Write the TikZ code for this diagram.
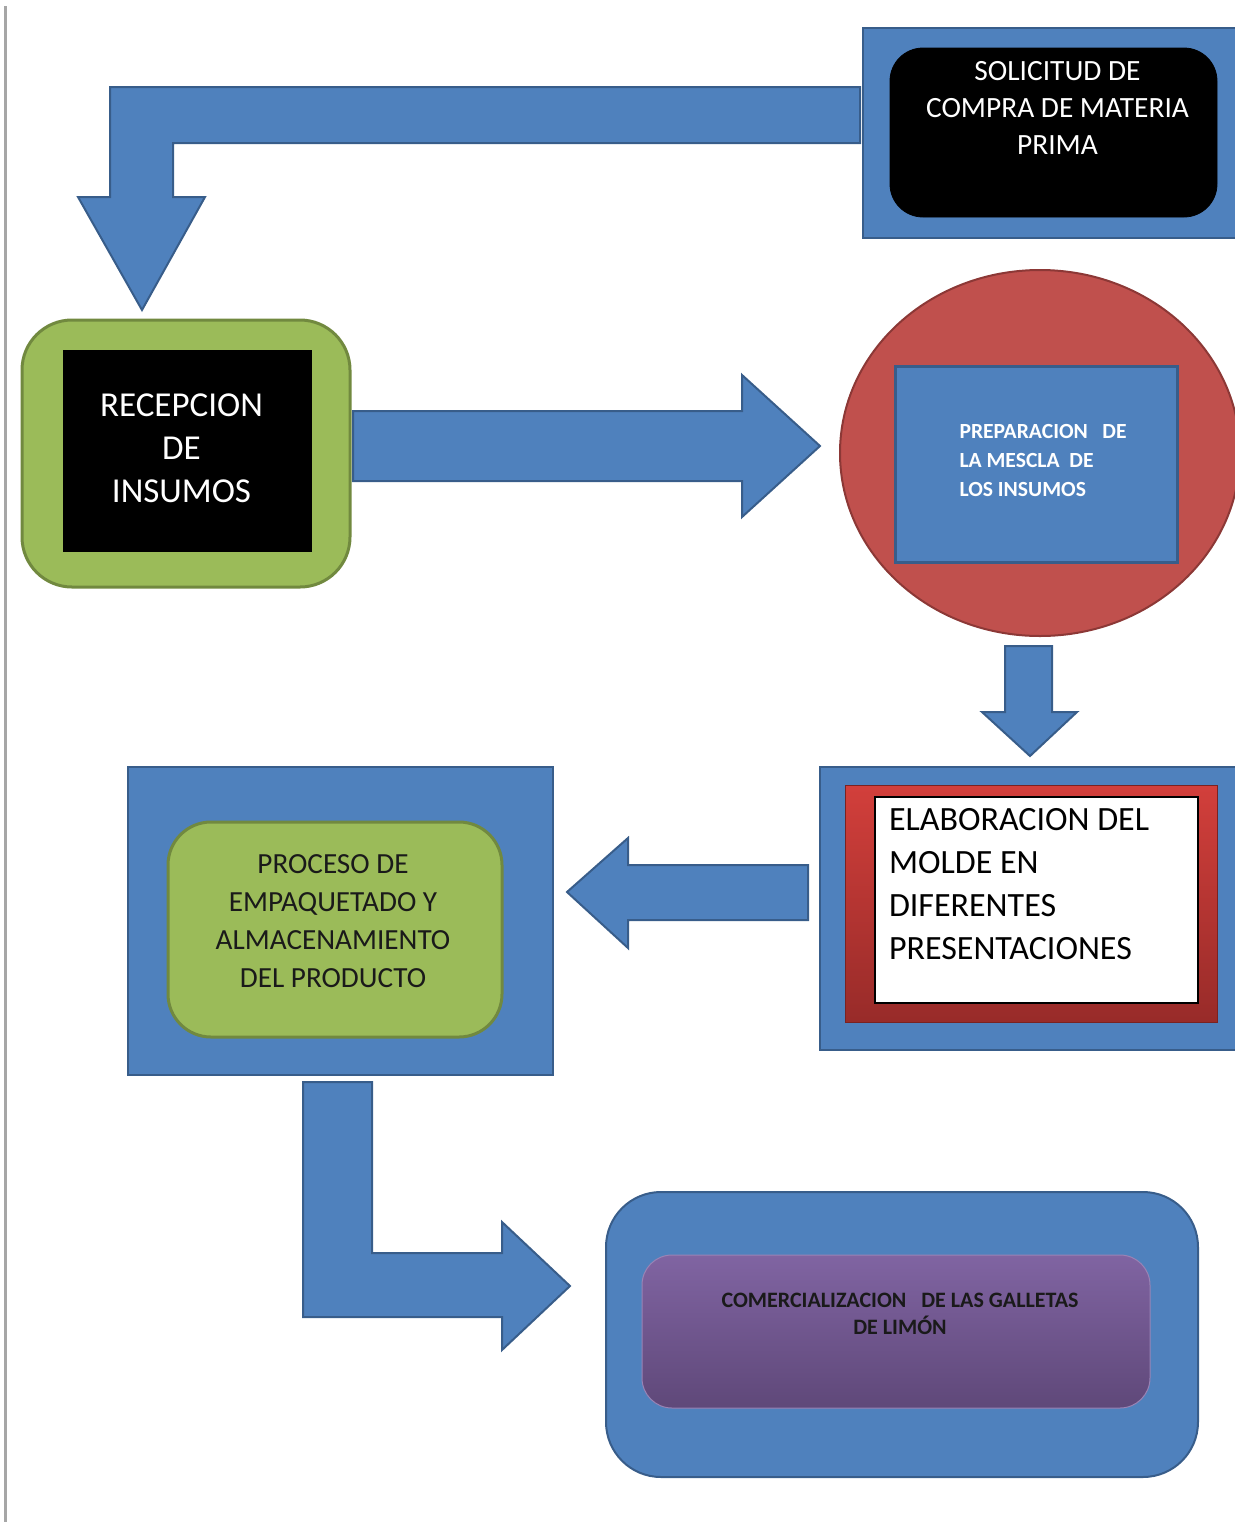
\documentclass[tikz,border=0pt]{standalone}
\usepackage{fontspec}
\setmainfont{Carlito}
\usetikzlibrary{positioning,shapes.geometric}

\definecolor{ofblue}{HTML}{4F81BD}
\definecolor{ofblueline}{HTML}{385D8A}
\definecolor{ofgreen}{HTML}{9BBB59}
\definecolor{ofgreenline}{HTML}{71893F}
\definecolor{ofred}{HTML}{C0504D}
\definecolor{ofredline}{HTML}{8C3836}
\definecolor{redtop}{HTML}{D23F3B}
\definecolor{redbot}{HTML}{982B29}
\definecolor{purtop}{HTML}{8064A2}
\definecolor{purbot}{HTML}{5F4879}
\definecolor{pageline}{HTML}{A6A6A6}
\definecolor{darktext}{HTML}{1A1A1A}

\tikzset{
  blueback/.style={draw=ofblueline, fill=ofblue, line width=1pt, inner sep=0pt},
  blockarrow/.style={draw=ofblueline, fill=ofblue, line width=1pt, line join=miter},
  txt/.style={inner sep=0pt, outer sep=0pt},
}

\begin{document}
\begin{tikzpicture}[x=0.5pt, y=-0.5pt]
  \useasboundingbox (0,0) rectangle (1235,1522);
  % page margin line
  \draw[pageline, line width=1.5pt] (5,6) -- (5,1522);

  % solicitud
  \node[blueback, minimum width=188.5pt, minimum height=105pt] (solicbg) at (1051.5,133) {};
  \node[fill=black, draw=black, rounded corners=16.5pt, minimum width=163.5pt,
        minimum height=84.5pt] (solic) at (1053.5,132.5) {};
  \node[txt, white, align=center, font=\fontsize{14.7}{18.5}\selectfont,
        below=7pt of solic.north, xshift=2pt] (solictxt)
        {SOLICITUD DE\\COMPRA DE MATERIA\\PRIMA};

  % recepcion
  \node[fill=ofgreen, draw=ofgreenline, line width=1.5pt, rounded corners=25pt,
        minimum width=164pt, minimum height=133.5pt] (recepbg) at (186,453.5) {};
  \node[fill=black, inner sep=0pt, minimum width=124.5pt, minimum height=101pt]
        (recep) at (187.5,451) {};
  \node[txt, white, align=center, font=\fontsize{17.5}{21.5}\selectfont,
        below=22pt of recep.north, xshift=-3pt] (receptxt)
        {RECEPCION\\DE\\INSUMOS};

  % preparacion
  \node[ellipse, fill=ofred, draw=ofredline, line width=1pt,
        minimum width=200pt, minimum height=183pt] (prepbg) at (1040,453) {};
  \node[blueback, line width=1.5pt, minimum width=141pt, minimum height=98pt]
        (prep) at (1036,464) {};
  \node[txt, white, align=left, font=\fontsize{10.8}{14.5}\selectfont\bfseries,
        below right=30pt and 33pt of prep.north west] (preptxt)
        {PREPARACION~~~DE\\LA MESCLA~~DE\\LOS INSUMOS};

  % elaboracion
  \node[blueback, minimum width=210pt, minimum height=141.5pt] (elabbg) at (1030,908.5) {};
  \node[top color=redtop, bottom color=redbot, draw=redbot!80!black, line width=0.5pt,
        minimum width=186pt, minimum height=118.5pt] (elabred) at (1031,903.5) {};
  \node[fill=white, draw=black, line width=1pt, minimum width=161.5pt,
        minimum height=103pt] (elab) at (1036.5,900) {};
  \node[txt, black, align=left, font=\fontsize{17}{21.5}\selectfont,
        below right=6pt and 7.5pt of elab.north west] (elabtxt)
        {ELABORACION DEL\\MOLDE EN\\DIFERENTES\\PRESENTACIONES};

  % proceso
  \node[blueback, minimum width=212.5pt, minimum height=154pt] (procbg) at (340.5,921) {};
  \node[fill=ofgreen, draw=ofgreenline, line width=1.5pt, rounded corners=21.5pt,
        minimum width=167pt, minimum height=107.5pt] (proc) at (335,929.5) {};
  \node[txt, darktext, align=center, font=\fontsize{14.6}{19}\selectfont,
        below=17pt of proc.north, xshift=-1pt] (proctxt)
        {PROCESO DE\\EMPAQUETADO Y\\ALMACENAMIENTO\\DEL PRODUCTO};

  % comercializacion
  \node[blueback, rounded corners=27.5pt, minimum width=296pt, minimum height=142.5pt]
        (combg) at (902,1334.5) {};
  \node[top color=purtop, bottom color=purbot, draw=purtop!80!white, line width=0.5pt,
        rounded corners=15pt, minimum width=254pt, minimum height=76.5pt]
        (com) at (896,1331.5) {};
  \node[txt, darktext, align=center, font=\fontsize{11}{13.5}\selectfont\bfseries,
        below=19.5pt of com.north, xshift=2pt] (comtxt)
        {COMERCIALIZACION~~~DE LAS GALLETAS\\DE LIM\'ON};

  % block arrows
  \path[blockarrow] (860,87) -- (110,87) -- (110,197) -- (78,197) -- (142,310)
        -- (205,197) -- (173,197) -- (173,143) -- (860,143) -- cycle;
  \path[blockarrow] (353,411) -- (742,411) -- (742,375) -- (820,446) -- (742,517)
        -- (742,481) -- (353,481) -- cycle;
  \path[blockarrow] (1005,646) -- (1052,646) -- (1052,712) -- (1077,712) -- (1030,756)
        -- (982,712) -- (1005,712) -- cycle;
  \path[blockarrow] (808,865) -- (628,865) -- (628,838) -- (567,892) -- (628,948)
        -- (628,920) -- (808,920) -- cycle;
  \path[blockarrow] (303,1082) -- (372,1082) -- (372,1253) -- (502,1253) -- (502,1222)
        -- (570,1286) -- (502,1350) -- (502,1317) -- (303,1317) -- cycle;
\end{tikzpicture}
\end{document}
